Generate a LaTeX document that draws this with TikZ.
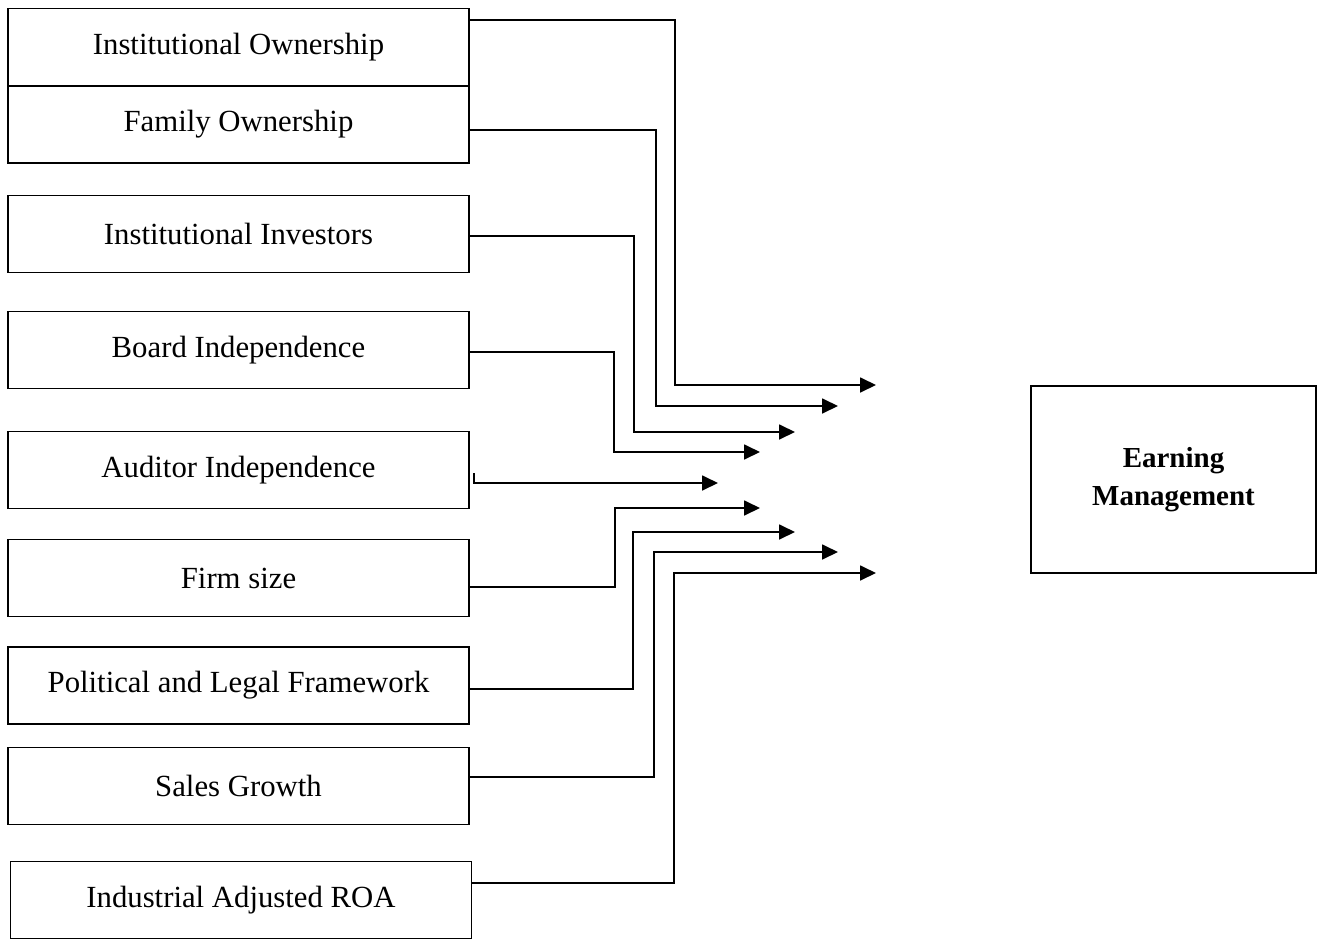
\documentclass[tikz,border=0pt]{standalone}
\usepackage{fontspec}
\setmainfont{Liberation Serif}
\usetikzlibrary{arrows.meta}

\begin{document}
\begin{tikzpicture}[x=0.02cm, y=-0.02cm,
    factor/.style={draw, rectangle, line width=1pt, minimum width=9.22cm, minimum height=1.54cm, font=\fontsize{17.5}{21}\selectfont},
    conn/.style={line width=1pt, -{Triangle[length=0.32cm,width=0.3cm]}}]
    \useasboundingbox (0,0) rectangle (1317,939);

    % Independent variables
    \node[factor] (own) at (238.5,47) {Institutional Ownership};
    \node[factor] (fam) at (238.5,124.5) {Family Ownership};
    \node[factor] (inv) at (238.5,234) {Institutional Investors};
    \node[factor] (board) at (238.5,350) {Board Independence};
    \node[factor] (aud) at (238.5,470) {Auditor Independence};
    \node[factor] (size) at (238.5,578) {Firm size};
    \node[factor] (pol) at (238.5,685.5) {Political and Legal Framework};
    \node[factor] (sales) at (238.5,786) {Sales Growth};
    \node[factor] (roa) at (241,900) {Industrial Adjusted ROA};

    % Dependent variable
    \node[draw, rectangle, line width=1pt, minimum width=5.7cm, minimum height=3.74cm, align=center, font=\fontsize{16.5}{21.5}\selectfont\bfseries] (em) at (1173.5,479.5) {Earning\\Management};

    % Arrow tips
    \coordinate (t1) at (876,385);
    \coordinate (t2) at (838,406);
    \coordinate (t3) at (795,432);
    \coordinate (t4) at (760,452);
    \coordinate (t5) at (718,483);
    \coordinate (t6) at (760,508);
    \coordinate (t7) at (795,532);
    \coordinate (t8) at (838,552);
    \coordinate (t9) at (876,573);

    % Arrows
    \draw[conn] ([yshift=0.54cm]own.east) -- ++(4.1cm,0) |- (t1);
    \draw[conn] ([yshift=-0.11cm]fam.east) -- ++(3.72cm,0) |- (t2);
    \draw[conn] ([yshift=-0.04cm]inv.east) -- ++(3.28cm,0) |- (t3);
    \draw[conn] ([yshift=-0.04cm]board.east) -- ++(2.88cm,0) |- (t4);
    \draw[conn] ([xshift=0.08cm,yshift=-0.06cm]aud.east) |- (t5);
    \draw[conn] ([yshift=-0.18cm]size.east) -- ++(2.9cm,0) |- (t6);
    \draw[conn] ([yshift=-0.07cm]pol.east) -- ++(3.26cm,0) |- (t7);
    \draw[conn] ([yshift=0.18cm]sales.east) -- ++(3.68cm,0) |- (t8);
    \draw[conn] ([yshift=0.34cm]roa.east) -- ++(4.04cm,0) |- (t9);
\end{tikzpicture}
\end{document}
